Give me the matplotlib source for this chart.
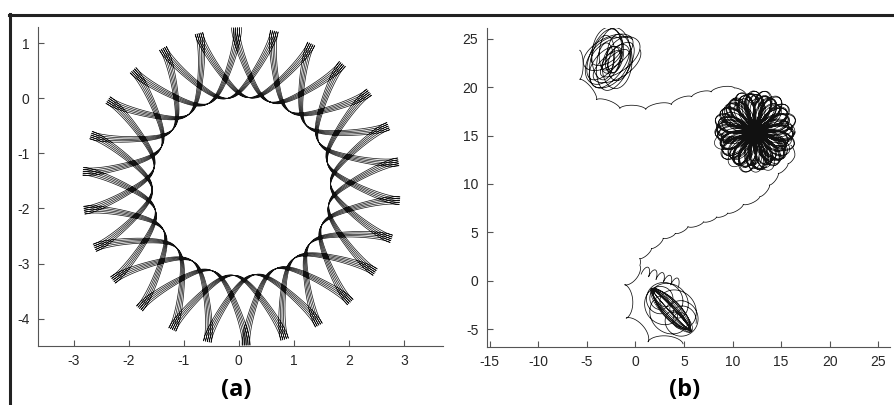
import numpy as np
import matplotlib
matplotlib.use("Agg")
import matplotlib.pyplot as plt
from matplotlib.lines import Line2D

# ---------------- panel (a): precessing trochoidal ring ----------------
ring_center = (0.045, -1.60)
ring_inner = 1.62
ring_outer = 2.89
tip_positions = 26             # distinct outer tips around the ring
tip_hop = 3                    # tips skipped by each arc
strands = 5                    # passes around the whole pattern
strand_shift = 0.05            # drift per pass, fraction of tip spacing
sweep_ratio = 1.05             # tangential sweep modulation (1 = cusp)
ring_phase = np.pi / 2         # one tip points straight up

a_xticks = [-3, -2, -1, 0, 1, 2, 3]
a_yticks = [-4, -3, -2, -1, 0, 1]
a_xlim = (-3.65, 3.71)
a_ylim = (-4.50, 1.30)

# ---------------- panel (b): trajectory with three trapping regions ----------------
b_xticks = [-15, -10, -5, 0, 5, 10, 15, 20, 25]
b_yticks = [-5, 0, 5, 10, 15, 20, 25]
b_xlim = (-15.3, 26.2)
b_ylim = (-6.8, 26.1)

# cusps of the scalloped path from the upper-left cluster to the right cluster
upper_path_x = [-5.73, -5.73, -4.0, -1.6, 1.07, 3.7, 5.8, 7.8, 10.2, 11.3]
upper_path_y = [23.8, 20.8, 18.7, 17.8, 17.7, 18.2, 19.0, 19.5, 19.9, 19.4]
upper_path_bulge = [0.12, 0.14, 0.14, 0.14, 0.14, 0.14, 0.14, 0.14, 0.10]

# cusps of the scalloped path from the right cluster down to the lower cluster
lower_path_x = [16.0, 16.4, 15.7, 14.7, 13.8, 12.8, 11.1, 9.5, 8.35, 7.0, 5.4, 4.1, 2.85, 1.65, 0.45]
lower_path_y = [14.0, 13.0, 12.1, 11.1, 9.9, 8.7, 7.9, 7.0, 6.6, 6.1, 5.6, 4.9, 4.4, 3.35, 2.3]
lower_path_bulge = [0.10, 0.14, 0.14, 0.14, 0.14, 0.14, 0.14, 0.14, 0.14, 0.14, 0.14, 0.14, 0.14, 0.14]

# large cusped arcs wrapping the lower cluster
wrap_x = [0.45, 0.45, -1.1, -0.95, 1.3, 4.9]
wrap_y = [2.3, 1.6, -0.4, -3.85, -6.3, -6.5]
wrap_bulge = [0.10, 0.22, 0.22, 0.22, 0.20]

# small looping spikes above the lower cluster
spikes_start = (0.6, 0.7)
spikes_end = (4.4, -0.7)
spikes_count = 5

# cluster centres
cluster_a_center = (-2.5, 22.9)
cluster_b_center = (12.3, 15.4)
cluster_c_center = (3.7, -3.0)


def rot(x, y, ang):
    c, s = np.cos(ang), np.sin(ang)
    return c * x - s * y, s * x + c * y


def scallops(xs, ys, bulges, n=60):
    """Cycloid-like arcs between consecutive cusp points (bulging left of travel)."""
    px, py = [], []
    phi = np.linspace(0, 2 * np.pi, n)
    along = (phi - np.sin(phi)) / (2 * np.pi)
    up = (1 - np.cos(phi)) / 2
    for i in range(len(xs) - 1):
        dx, dy = xs[i + 1] - xs[i], ys[i + 1] - ys[i]
        L = np.hypot(dx, dy)
        nx, ny = -dy / L, dx / L
        h = bulges[i] * L
        px.append(xs[i] + dx * along + nx * h * up)
        py.append(ys[i] + dy * along + ny * h * up)
    return np.concatenate(px), np.concatenate(py)


fig = plt.figure(figsize=(8.95, 4.05), dpi=100)
plt.rcParams['font.family'] = ['Liberation Sans', 'DejaVu Sans']

axA = fig.add_axes([38 / 895, 1 - 346 / 405, 405 / 895, 319 / 405])
axB = fig.add_axes([486.7 / 895, 1 - 346.7 / 405, 403.3 / 895, 318.7 / 405])

# ---- (a) ----
spacing = 2 * np.pi / tip_positions
n_arcs = tip_positions * strands
span = tip_hop * spacing + strand_shift * spacing / tip_positions
phi = np.linspace(0, 2 * np.pi * n_arcs, n_arcs * 360)
theta = ring_phase + span * (phi - sweep_ratio * np.sin(phi)) / (2 * np.pi)
rad = (ring_outer + ring_inner) / 2 + (ring_outer - ring_inner) / 2 * np.cos(phi)
axA.plot(ring_center[0] + rad * np.cos(theta), ring_center[1] + rad * np.sin(theta),
         color='#111111', lw=0.5)

# ---- (b) ----
line_kw = dict(color='#111111', lw=0.55)

ux, uy = scallops(upper_path_x, upper_path_y, upper_path_bulge)
axB.plot(ux, uy, **line_kw)
lx, ly = scallops(lower_path_x, lower_path_y, lower_path_bulge)
axB.plot(lx, ly, **line_kw)
wx, wy = scallops(wrap_x, wrap_y, wrap_bulge, n=120)
axB.plot(wx, wy, **line_kw)

# looping spikes
ph = np.linspace(0, 2 * np.pi * spikes_count, 800)
sx0, sy0 = spikes_start
sdx, sdy = spikes_end[0] - sx0, spikes_end[1] - sy0
SL = np.hypot(sdx, sdy)
ex, ey = sdx / SL, sdy / SL
nx, ny = -ey, ex
along = SL * ph / ph[-1] - 0.14 * np.sin(ph)
perp = 0.45 * (1 - np.cos(ph))
axB.plot(sx0 + ex * along + nx * perp, sy0 + ey * along + ny * perp, **line_kw)

# cluster B: dense ball of large loops
t = np.linspace(0, 2 * np.pi * 34, 30000)
zb = 2.05 * np.exp(1j * t) + 1.85 * np.exp(-2.618j * t)
zb *= 1 + 0.06 * np.sin(0.0937 * t)
zb += 0.25 * np.exp(0.047j * t)
axB.plot(cluster_b_center[0] + zb.real, cluster_b_center[1] + zb.imag,
         color='#111111', lw=0.5)

# cluster A: loose tangle of tilted elongated loops
t = np.linspace(0, 2 * np.pi * 16, 8000)
beta = np.deg2rad(60 + 30 * np.sin(0.173 * t))
lx_, ly_ = rot(2.35 * np.cos(t), 1.2 * np.sin(t), beta)
wander = 1.0 * np.exp(0.31j * t)
axB.plot(cluster_a_center[0] + lx_ + wander.real,
         cluster_a_center[1] + ly_ + wander.imag, **line_kw)

# cluster C: tilted elliptical bundle plus petal loops
t = np.linspace(0, 2 * np.pi * 10, 6000)
ex_ = 2.8 * np.cos(t) * (1 + 0.09 * np.sin(0.23 * t))
ey_ = 0.95 * np.sin(t) * (0.6 + 0.4 * np.sin(0.31 * t))
ex_, ey_ = rot(ex_, ey_, np.deg2rad(-47))
axB.plot(cluster_c_center[0] + ex_, cluster_c_center[1] + ey_, color='#111111', lw=0.45)
t = np.linspace(0, 2 * np.pi * 2.6, 4000)
zc = 1.25 * np.exp(3.4j * t)
px_, py_ = rot(1.9 * np.cos(t), 1.1 * np.sin(t), np.deg2rad(-47))
axB.plot(cluster_c_center[0] + px_ + zc.real, cluster_c_center[1] + py_ + zc.imag, **line_kw)

# ---- axes styling ----
for ax, xl, yl, xt, yt in [(axA, a_xlim, a_ylim, a_xticks, a_yticks),
                           (axB, b_xlim, b_ylim, b_xticks, b_yticks)]:
    ax.set_xlim(*xl)
    ax.set_ylim(*yl)
    ax.set_xticks(xt)
    ax.set_yticks(yt)
    ax.set_xticklabels([str(v) for v in xt])
    ax.set_yticklabels([str(v) for v in yt])
    for side in ('top', 'right'):
        ax.spines[side].set_visible(False)
    for side in ('left', 'bottom'):
        ax.spines[side].set_color('#555555')
        ax.spines[side].set_linewidth(0.8)
    ax.tick_params(direction='in', length=4, width=0.8, color='#555555',
                   labelsize=10, labelcolor='#262626', pad=6)

fig.text(236 / 895, 1 - 390 / 405, '(a)', ha='center', va='center',
         fontsize=17, fontweight='bold', family='Open Sans')
fig.text(685 / 895, 1 - 390 / 405, '(b)', ha='center', va='center',
         fontsize=17, fontweight='bold', family='Open Sans')

# outer frame (top and left edges)
fig.add_artist(Line2D([9 / 895, 1], [1 - 15 / 405] * 2, transform=fig.transFigure,
                      color='#222222', lw=2.2))
fig.add_artist(Line2D([10.5 / 895] * 2, [0, 1 - 14 / 405], transform=fig.transFigure,
                      color='#222222', lw=2.2))

fig.savefig('out.png', dpi=100)
